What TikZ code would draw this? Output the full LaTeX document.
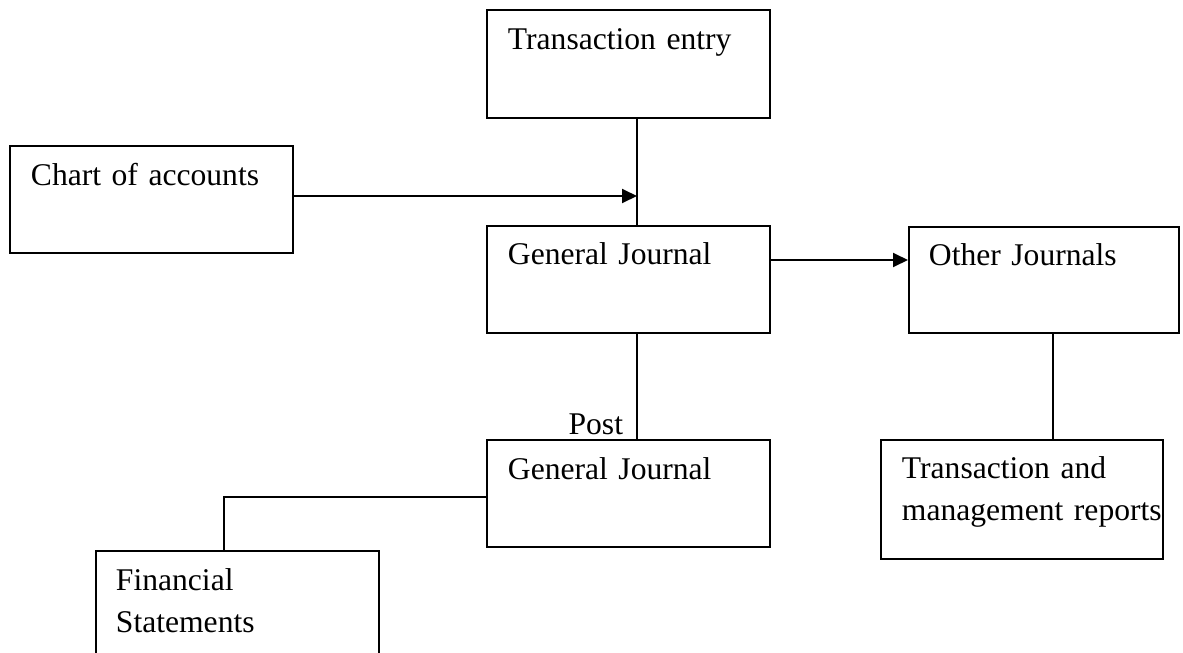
\documentclass[tikz,border=0pt]{standalone}
\usepackage{fontspec}
\setmainfont[WordSpace=0.8]{Liberation Serif}
\usetikzlibrary{arrows.meta}
\tikzset{
  blk/.style={draw, line width=.95pt, anchor=north west, inner sep=0pt},
  txt/.style={anchor=base west, inner sep=0pt, align=left, text width=140pt,
    font=\fontsize{15.8pt}{21pt}\selectfont},
  arr/.style={-{Triangle[length=7.5pt,width=7pt]}}
}
\begin{document}
\begin{tikzpicture}[x=0.5pt,y=-0.5pt,line width=.95pt]
\useasboundingbox (0,0) rectangle (1183,653);
% boxes
\node[blk, minimum width=141.5pt, minimum height=54pt] (te) at (486,9) {};
\node[blk, minimum width=141.5pt, minimum height=53.5pt] (coa) at (9,145) {};
\node[blk, minimum width=141.5pt, minimum height=53.5pt] (gj) at (486,225) {};
\node[blk, minimum width=135pt, minimum height=53pt] (oj) at (908,226) {};
\node[blk, minimum width=141.5pt, minimum height=53.5pt] (gl) at (486,439) {};
\node[blk, minimum width=141pt, minimum height=59.5pt] (rep) at (880,439) {};
\node[blk, minimum width=141.5pt, minimum height=56pt] (fs) at (95,550) {};
% texts
\node[txt] (te-t) at ([shift={(21,40)}]te.north west) {Transaction entry};
\node[txt] (coa-t) at ([shift={(21,40)}]coa.north west) {Chart of accounts};
\node[txt] (gj-t) at ([shift={(21,39)}]gj.north west) {General Journal};
\node[txt] (oj-t) at ([shift={(20,39)}]oj.north west) {Other Journals};
\node[txt] (gl-t) at ([shift={(21,40)}]gl.north west) {General Journal};
\node[txt] (rep-t) at ([shift={(21,39)}]rep.north west) {Transaction and\\management reports};
\node[txt] (fs-t) at ([shift={(20,40)}]fs.north west) {Financial\\Statements};
% connectors
\coordinate (v1) at (637,0);
\coordinate (v2) at (1053,0);
\coordinate (v3) at (224,0);
\coordinate (h1) at (0,196);
\coordinate (h2) at (0,260);
\coordinate (h3) at (0,497);
\draw (te.south -| v1) -- (gj.north -| v1);
\draw[arr] (coa.east |- h1) -- (v1 |- h1);
\draw[arr] (gj.east |- h2) -- (oj.west |- h2);
\draw (gj.south -| v1) -- (gl.north -| v1);
\draw (oj.south -| v2) -- (rep.north -| v2);
\draw (gl.west |- h3) -| (fs.north -| v3);
\node[anchor=base east, inner sep=0pt, font=\fontsize{15.8pt}{21pt}\selectfont] (post) at ([shift={(-13,-5)}]gl.north -| v1) {Post};
\end{tikzpicture}
\end{document}
